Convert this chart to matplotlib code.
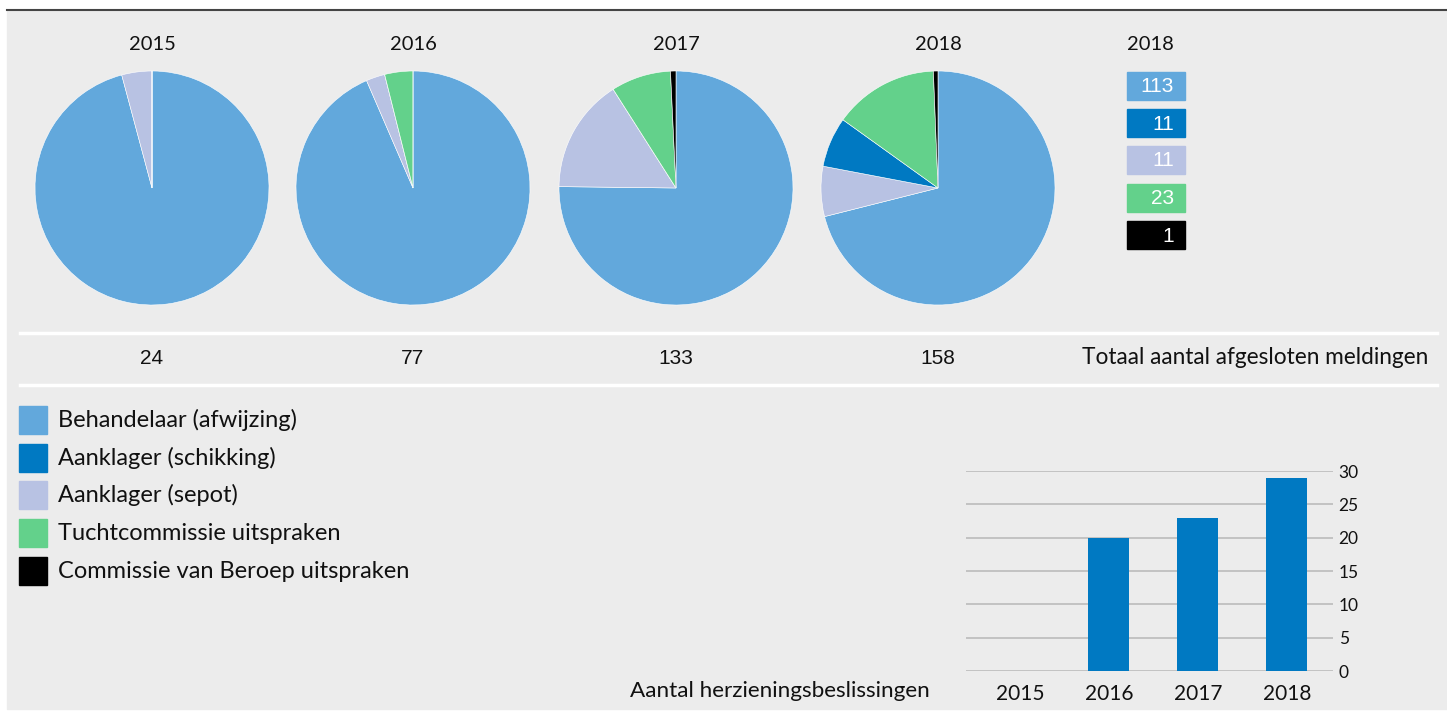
import matplotlib
matplotlib.use('Agg')
import matplotlib.pyplot as plt
from matplotlib.patches import Rectangle
from matplotlib.lines import Line2D

# Data
years = ["2015", "2016", "2017", "2018"]
categories = [
    "Behandelaar (afwijzing)",
    "Aanklager (schikking)",
    "Aanklager (sepot)",
    "Tuchtcommissie uitspraken",
    "Commissie van Beroep uitspraken",
]
colors = ["#62a8dc", "#0079c2", "#b8c2e3", "#63d18b", "#000000"]

behandelaar = [23, 72, 100, 113]
schikking = [0, 0, 0, 11]
sepot = [1, 2, 21, 11]
tucht = [0, 3, 11, 23]
beroep = [0, 0, 1, 1]
totals = [24, 77, 133, 158]

herziening = [0, 20, 23, 29]
herziening_ticks = [0, 5, 10, 15, 20, 25, 30]

W, H = 1447, 711
BG = "#ececec"
MAIN_FONT = ["Lato", "DejaVu Sans"]
NUM_FONT = ["Liberation Sans", "DejaVu Sans"]
TXT = "#111111"

fig = plt.figure(figsize=(W / 100, H / 100), dpi=100)
fig.patch.set_facecolor("white")


def px_axes(x0, y0, w, h):
    """Axes from pixel coords (top-left origin)."""
    return fig.add_axes([x0 / W, 1 - (y0 + h) / H, w / W, h / H])


def ftext(x, y, s, **kw):
    fig.text(x / W, 1 - y / H, s, **kw)


# background panel and top rule
fig.add_artist(Rectangle((7 / W, 2 / H), (W - 7) / W, (H - 13) / H,
                         color=BG, transform=fig.transFigure, zorder=-5))
fig.add_artist(Line2D([7 / W, 1], [1 - 10 / H, 1 - 10 / H], color="#444444", lw=1.5))

# white separator lines
for yy in (333, 385):
    fig.add_artist(Line2D([20 / W, 1437 / W], [1 - yy / H, 1 - yy / H], color="white", lw=2.5))

# pies
pie_cx = [152, 413, 676, 938]
R = 117
order = [behandelaar, sepot, schikking, tucht, beroep]
order_cols = [colors[0], colors[2], colors[1], colors[3], colors[4]]
for i, yr in enumerate(years):
    ax = px_axes(pie_cx[i] - R, 188 - R, 2 * R, 2 * R)
    vals = [s[i] for s in order]
    ax.pie(vals, colors=order_cols, startangle=90, counterclock=False,
           wedgeprops=dict(linewidth=0.4, edgecolor="white"))
    ax.set_xlim(-1, 1)
    ax.set_ylim(-1, 1)
    ax.set_aspect("auto")
    ax.axis("off")
    ftext(pie_cx[i], 44, yr, ha="center", va="center", fontsize=14.5, family=MAIN_FONT, color=TXT)
    ftext(pie_cx[i], 358, str(totals[i]), ha="center", va="center", fontsize=15, family=NUM_FONT, color=TXT)

ftext(1428, 358, "Totaal aantal afgesloten meldingen", ha="right", va="center",
      fontsize=16.3, family=MAIN_FONT, color=TXT)

# 2018 value boxes
ftext(1150, 44, years[-1], ha="center", va="center", fontsize=14.5, family=MAIN_FONT, color=TXT)
box_vals = [behandelaar[-1], schikking[-1], sepot[-1], tucht[-1], beroep[-1]]
box_y = [86, 123, 160, 198, 235]
for v, c, yy in zip(box_vals, colors, box_y):
    fig.add_artist(Rectangle((1127 / W, 1 - (yy + 14) / H), 58 / W, 28 / H,
                             color=c, transform=fig.transFigure))
    ftext(1174, yy + 1, str(v), ha="right", va="center", fontsize=15, family=NUM_FONT, color="white")

# legend
leg_y = [420, 458, 495, 533, 571]
for lab, c, yy in zip(categories, colors, leg_y):
    fig.add_artist(Rectangle((19 / W, 1 - (yy + 14) / H), 28 / W, 28 / H,
                             color=c, transform=fig.transFigure))
    ftext(58, yy, lab, ha="left", va="center", fontsize=17, family=MAIN_FONT, color=TXT)

# bar chart
bx = px_axes(966, 471, 367, 200)
bx.set_facecolor("none")
pos = range(len(years))
bx.bar(pos, herziening, width=0.46, color="#0079c2", zorder=3)
bx.set_xlim(-0.607, 3.52)
bx.set_ylim(0, 30)
bx.set_yticks(herziening_ticks)
bx.yaxis.tick_right()
bx.grid(axis="y", color="#bbbbbb", linewidth=1.2, zorder=0)
bx.set_xticks(list(pos))
bx.set_xticklabels(years, family=MAIN_FONT, fontsize=15, color=TXT)
for lab in bx.get_yticklabels():
    lab.set_family(MAIN_FONT)
    lab.set_fontsize(12.5)
    lab.set_color(TXT)
bx.tick_params(axis="both", length=0, pad=4)
bx.tick_params(axis="x", pad=9)
for sp in bx.spines.values():
    sp.set_visible(False)

ftext(930, 691, "Aantal herzieningsbeslissingen", ha="right", va="center",
      fontsize=16.2, family=MAIN_FONT, color=TXT)

fig.savefig("out.png", dpi=100, facecolor=fig.get_facecolor())
